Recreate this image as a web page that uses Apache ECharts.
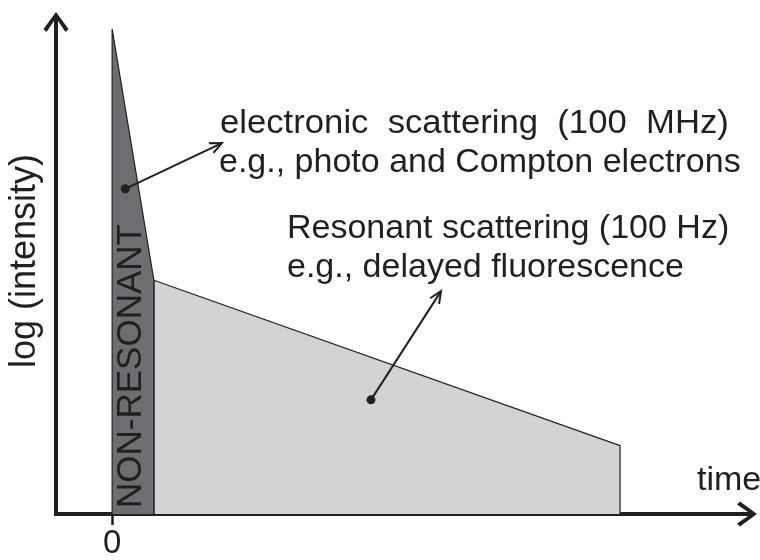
<!DOCTYPE html>
<html>
<head>
<meta charset="utf-8">
<script src="https://cdn.jsdelivr.net/npm/echarts@6/dist/echarts.min.js"></script>
<style>html,body{margin:0;padding:0;background:#fff}#c{width:760px;height:560px}</style>
</head>
<body>
<div id="c"></div>
<script>
// time positions (arbitrary units) and log-intensity values
const nonResonantTime = [0, 0, 1.02, 1.02];
const nonResonantLogI = [0, 9.86, 4.75, 0];
const resonantTime = [1.02, 1.02, 12.4, 12.4];
const resonantLogI = [0, 4.75, 1.39, 0];
// annotation pointers: dot (x,y) -> arrow tip (x,y)
const pointerFromX = [0.32, 6.32];
const pointerFromY = [6.61, 2.32];
const pointerToX = [2.68, 8.03];
const pointerToY = [7.54, 4.53];
const xTickValues = [0];

const ink = '#231f20';
const font = '"Liberation Sans", Arial, Helvetica, sans-serif';
const arrowPath = 'path://M12.5 0 L25 17 L22 20 L12.5 6 L3 20 L0 17 Z M10.5 4 L14.5 4 L14.5 20 L10.5 20 Z';

const zip = (a, b) => a.map((v, i) => [v, b[i]]);
const pointers = pointerFromX.map((v, i) => [v, pointerFromY[i], pointerToX[i], pointerToY[i]]);

const chart = echarts.init(document.getElementById('c'), null, {renderer: 'canvas'});
chart.setOption({
  animation: false,
  backgroundColor: '#fff',
  grid: {left: 56, right: 13, top: 22, bottom: 43},
  xAxis: {
    type: 'value', min: -1.37, max: 15.5,
    splitLine: {show: false},
    axisLine: {show: true, onZero: false, symbol: ['none', arrowPath], symbolSize: [25, 20],
      lineStyle: {color: ink, width: 4, cap: 'square'}},
    axisTick: {show: true, customValues: xTickValues, length: 11, lineStyle: {color: ink, width: 2.5}},
    axisLabel: {show: true, customValues: xTickValues, margin: 13, fontSize: 33, color: ink, fontFamily: font}
  },
  yAxis: {
    type: 'value', min: 0, max: 10,
    splitLine: {show: false},
    axisLine: {show: true, onZero: false, symbol: ['none', arrowPath], symbolSize: [25, 20],
      lineStyle: {color: ink, width: 4, cap: 'square'}},
    axisTick: {show: false},
    axisLabel: {show: false}
  },
  series: [
    {
      type: 'line', data: zip(resonantTime, resonantLogI), symbol: 'none', z: 2,
      lineStyle: {color: ink, width: 1.2},
      areaStyle: {color: '#d1d3d4', opacity: 1}
    },
    {
      type: 'line', data: zip(nonResonantTime, nonResonantLogI), symbol: 'none', z: 3,
      lineStyle: {color: ink, width: 1.2},
      areaStyle: {color: '#6d6e71', opacity: 1}
    },
    {
      type: 'custom', data: pointers, z: 5,
      encode: {x: [0, 2], y: [1, 3]},
      renderItem: function (params, api) {
        const p0 = api.coord([api.value(0), api.value(1)]);
        const p1 = api.coord([api.value(2), api.value(3)]);
        const ang = Math.atan2(p1[1] - p0[1], p1[0] - p0[0]);
        const L = 13, a = 0.42;
        const w1 = [p1[0] - L * Math.cos(ang - a), p1[1] - L * Math.sin(ang - a)];
        const w2 = [p1[0] - L * Math.cos(ang + a), p1[1] - L * Math.sin(ang + a)];
        return {type: 'group', children: [
          {type: 'line', shape: {x1: p0[0], y1: p0[1], x2: p1[0], y2: p1[1]}, style: {stroke: ink, lineWidth: 2}},
          {type: 'polyline', shape: {points: [w1, p1, w2]}, style: {stroke: ink, lineWidth: 2, fill: null}},
          {type: 'circle', shape: {cx: p0[0], cy: p0[1], r: 4.5}, style: {fill: ink}}
        ]};
      }
    }
  ],
  graphic: [
    {type: 'text', x: 220, y: 124, scaleX: 1.02, z: 10, style: {text: 'electronic  scattering  (100  MHz)', fontSize: 34, fontFamily: font, fill: ink, align: 'left', verticalAlign: 'middle'}},
    {type: 'text', x: 219, y: 163, z: 10, style: {text: 'e.g., photo and Compton electrons', fontSize: 34, fontFamily: font, fill: ink, align: 'left', verticalAlign: 'middle'}},
    {type: 'text', x: 287, y: 229, z: 10, style: {text: 'Resonant scattering (100 Hz)', fontSize: 34, fontFamily: font, fill: ink, align: 'left', verticalAlign: 'middle'}},
    {type: 'text', x: 287, y: 268, z: 10, style: {text: 'e.g., delayed fluorescence', fontSize: 34, fontFamily: font, fill: ink, align: 'left', verticalAlign: 'middle'}},
    {type: 'text', x: 697, y: 481, z: 10, style: {text: 'time', fontSize: 34, fontFamily: font, fill: ink, align: 'left', verticalAlign: 'middle'}},
    {type: 'text', x: 25, y: 261, rotation: Math.PI / 2, z: 10, style: {text: 'log (intensity)', fontSize: 36, fontFamily: font, fill: ink, align: 'center', verticalAlign: 'middle'}},
    {type: 'text', x: 131, y: 366, rotation: Math.PI / 2, z: 10, style: {text: 'NON-RESONANT', fontSize: 35, fontFamily: font, fill: ink, align: 'center', verticalAlign: 'middle'}}
  ]
});
</script>
</body>
</html>
